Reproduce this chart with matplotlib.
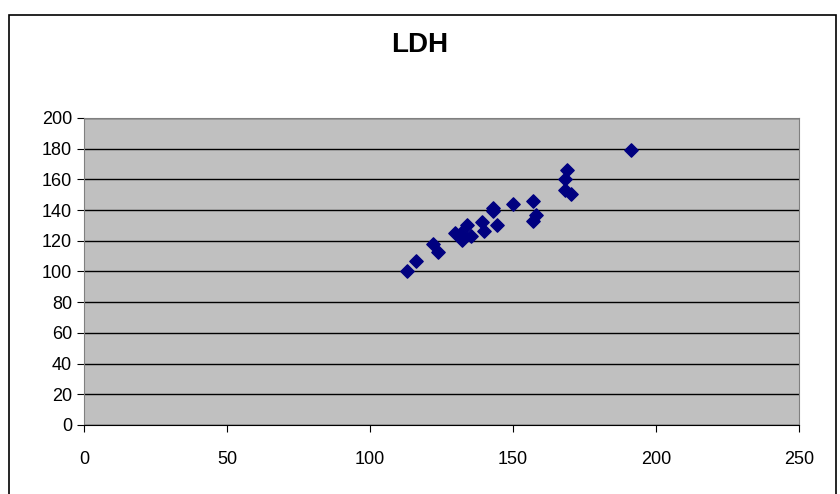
import matplotlib
matplotlib.use("Agg")
import matplotlib.pyplot as plt
from matplotlib.patches import Rectangle

plt.rcParams['font.family'] = ['Liberation Sans', 'DejaVu Sans']

# LDH readings (x vs y)
ldh_x = [191.2, 168.9, 168.3, 168.1, 170.2, 156.9, 158.0, 156.9, 150.2, 143.1,
         143.0, 144.3, 139.1, 140.0, 133.8, 135.2, 131.7, 129.8, 132.1, 121.9,
         123.7, 116.1, 112.9]
ldh_y = [179.0, 166.4, 160.0, 153.3, 150.5, 146.2, 136.7, 132.9, 143.7, 141.1,
         139.3, 130.0, 132.0, 126.5, 130.2, 123.3, 124.8, 124.8, 120.5, 117.8,
         112.9, 106.7, 100.0]

x_ticks = [0, 50, 100, 150, 200, 250]
y_ticks = list(range(0, 201, 20))

fig = plt.figure(figsize=(8.4, 4.94), dpi=100)
ax = fig.add_axes([0.1, 0.1397, 0.851, 0.6215])

# outer chart frame
fig.patches.append(Rectangle((9 / 840, -0.01), 827 / 840, (494 - 15) / 494 + 0.01,
                             transform=fig.transFigure, fill=False,
                             edgecolor='black', linewidth=1.2))

ax.set_facecolor('#C0C0C0')
ax.scatter(ldh_x, ldh_y, marker='D', s=46, color='#000080', zorder=3)

ax.set_xlim(0, 250)
ax.set_ylim(0, 200)
ax.set_xticks(x_ticks)
ax.set_yticks(y_ticks)
ax.grid(True, axis='y', color='black', linewidth=1)
ax.set_axisbelow(True)
ax.tick_params(axis='both', direction='out', length=5, labelsize=13, color='black')
ax.tick_params(axis='x', pad=14)

for side in ['top', 'right']:
    ax.spines[side].set_color('#808080')
ax.spines['left'].set_color('#808080')
ax.spines['bottom'].set_color('black')

fig.text(0.5, 0.908, 'LDH', ha='center', va='center', fontsize=20, fontweight='bold')

fig.savefig('out.png', dpi=100)
